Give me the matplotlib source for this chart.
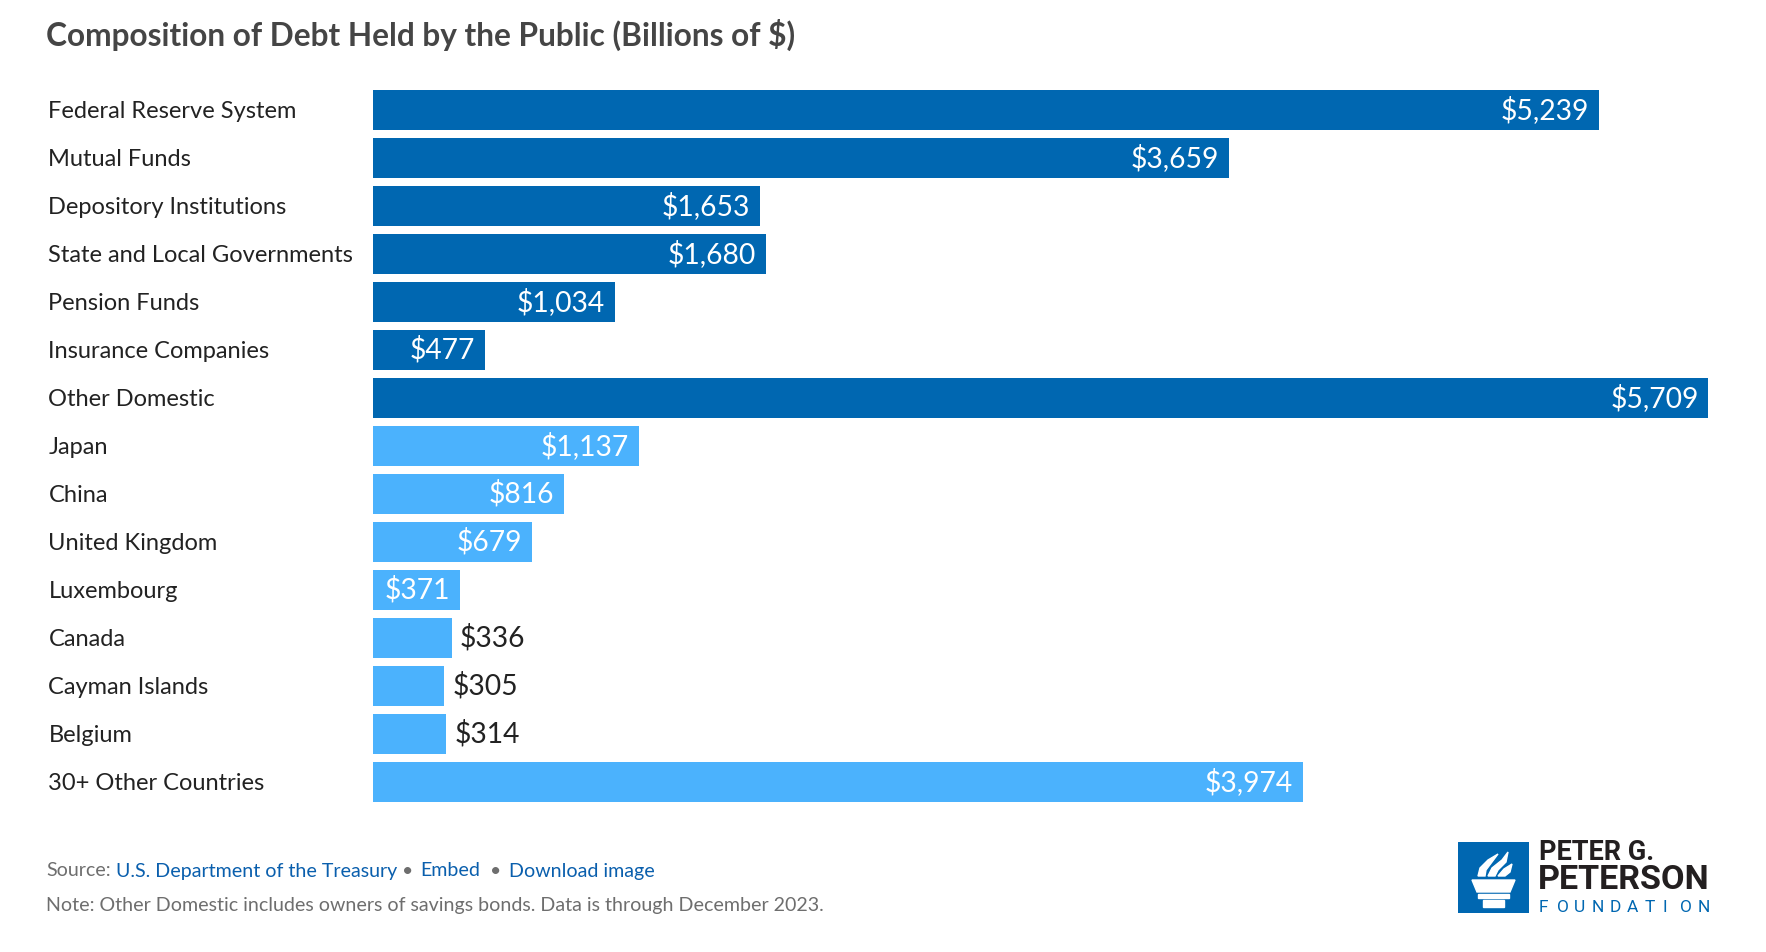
"""Composition of debt held by the public, horizontal bars."""

import matplotlib
matplotlib.use("Agg")
import matplotlib.pyplot as plt
import matplotlib.transforms as mtransforms
from matplotlib.patches import Rectangle, Polygon

# data
holders = [
    "Federal Reserve System", "Mutual Funds", "Depository Institutions",
    "State and Local Governments", "Pension Funds", "Insurance Companies",
    "Other Domestic", "Japan", "China", "United Kingdom", "Luxembourg",
    "Canada", "Cayman Islands", "Belgium", "30+ Other Countries",
]
values = [5239, 3659, 1653, 1680, 1034, 477, 5709, 1137, 816, 679, 371,
          336, 305, 314, 3974]
group = ["domestic"] * 7 + ["foreign"] * 8

title = "Composition of Debt Held by the Public (Billions of $)"
note = "Note: Other Domestic includes owners of savings bonds. Data is through December 2023."

DARK = "#0067b1"
LIGHT = "#4bb2fd"
FONT = "Lato"

W, H = 1766, 952
fig = plt.figure(figsize=(W / 100, H / 100), dpi=100)
fig.patch.set_facecolor("white")


def px_axes(x0, y0, x1, y1):
    # axes from pixel box (top-left origin)
    return fig.add_axes([x0 / W, 1 - y1 / H, (x1 - x0) / W, (y1 - y0) / H])


pitch = 48.0
ax = px_axes(373, 109.9 - pitch / 2, 1708.5, 109.9 + 14.5 * pitch)
ax.set_xlim(0, max(values))
ax.set_ylim(len(values) - 0.5, -0.5)
ax.axis("off")

ypos = list(range(len(values)))
colors = [DARK if g == "domestic" else LIGHT for g in group]
ax.barh(ypos, values, height=40 / pitch, color=colors)

lab_tr = mtransforms.blended_transform_factory(fig.transFigure, ax.transData)
for i, (name, v) in enumerate(zip(holders, values)):
    ax.annotate(name, (48.5 / W, i), xycoords=lab_tr, xytext=(0, -0.8),
                textcoords="offset points", ha="left", va="center",
                fontsize=17, family=FONT, color="#222222")
    txt = f"${v:,}"
    if v > 350:
        ax.annotate(txt, (v, i), xytext=(-7.0, 0), textcoords="offset points",
                    ha="right", va="center", fontsize=20.3, family=FONT,
                    color="white")
    else:
        ax.annotate(txt, (v, i), xytext=(6.0, 0), textcoords="offset points",
                    ha="left", va="center", fontsize=20.3, family=FONT,
                    color="#222222")

fig.text(46 / W, 1 - 35 / H, title, ha="left", va="center", fontsize=22.8,
         family=FONT, weight="bold", color="#454545")

# footer with mixed colours
GREY = "#6e6e6e"
LINK = "#0a5fad"
footer = [(46, "Source:", GREY, "left"),
          (116, "U.S. Department of the Treasury", LINK, "left"),
          (408, "\u2022", GREY, "center"),
          (420, "Embed", LINK, "left"),
          (496, "\u2022", GREY, "center"),
          (509, "Download image", LINK, "left")]
for xp, s, c, ha in footer:
    fig.text(xp / W, 1 - 871 / H, s, ha=ha, va="center", fontsize=14.1,
             family=FONT, color=c)
fig.text(46 / W, 1 - 906 / H, note, ha="left", va="center", fontsize=14.1,
         family=FONT, color=GREY)

# logo
lg = px_axes(1458, 842, 1529, 913)
lg.set_xlim(0, 71)
lg.set_ylim(71, 0)
lg.axis("off")
lg.add_patch(Rectangle((0, 0), 71, 71, color="#0067b1"))
lg.add_patch(Polygon([[14, 38], [57, 38], [52, 50], [19, 50]], color="white"))
lg.add_patch(Rectangle((20, 52), 31, 4, color="white"))
lg.add_patch(Rectangle((25, 58), 21, 7, color="white"))
lg.add_patch(Polygon([[20, 34], [22, 26], [30, 18], [40, 12], [34, 20],
                      [28, 28], [27, 34]], color="white"))
lg.add_patch(Polygon([[30, 34], [34, 26], [44, 18], [50, 10], [48, 20],
                      [40, 28], [37, 34]], color="white"))
lg.add_patch(Polygon([[40, 34], [46, 27], [54, 22], [52, 30], [47, 34]],
                     color="white"))

fig.text(1539 / W, 1 - 853 / H, "PETER G.", ha="left", va="center",
         fontsize=19.5, family="Roboto", weight="bold", color="#231f20")
fig.text(1538 / W, 1 - 880 / H, "PETERSON", ha="left", va="center",
         fontsize=24.6, family="Roboto", weight="bold", color="#231f20")
letters = "FOUNDATION"
for k, ch in enumerate(letters):
    fig.text((1539 + k * 17.6) / W, 1 - 907 / H, ch, ha="left", va="center",
             fontsize=12.5, family="Roboto", color="#0067b1")

fig.savefig("out.png", dpi=100, facecolor="white")
